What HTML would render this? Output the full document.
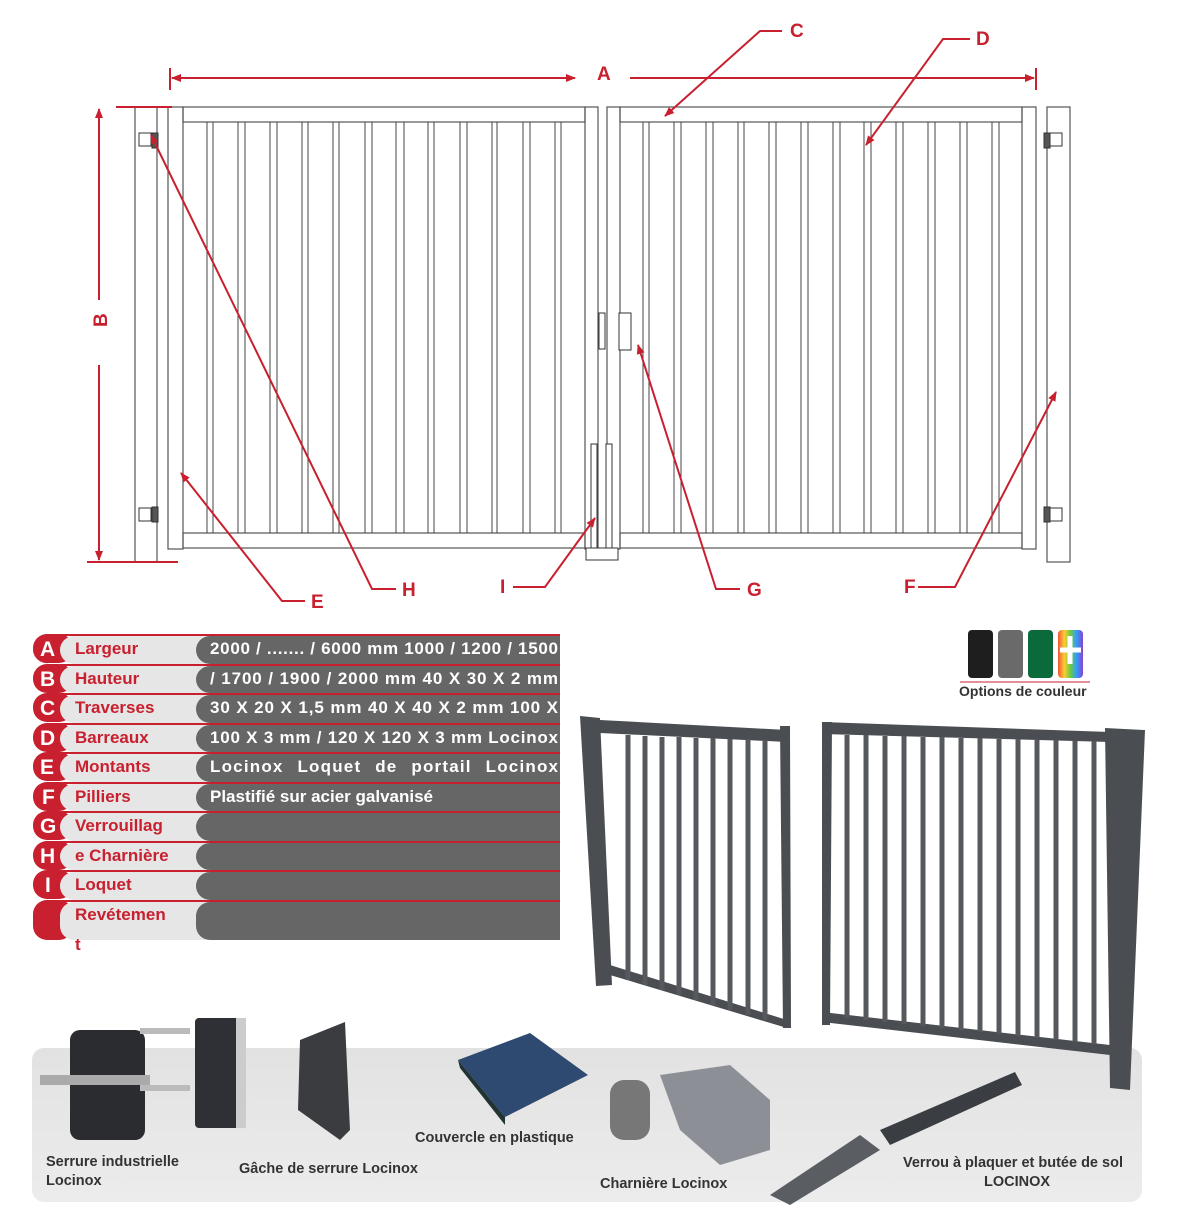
<!DOCTYPE html>
<html><head><meta charset="utf-8"><style>
body{margin:0;background:#fff;width:1200px;height:1230px;overflow:hidden}
svg{display:block}
text{font-family:"Liberation Sans",sans-serif;font-weight:bold}
</style></head><body>
<svg width="1200" height="1230" viewBox="0 0 1200 1230" xmlns="http://www.w3.org/2000/svg">
<defs>
<marker id="ar" markerWidth="10" markerHeight="10" refX="9" refY="5" orient="auto-start-reverse" markerUnits="userSpaceOnUse"><path d="M0,1 L10,5 L0,9 Z" fill="#c8202f"/></marker>
<linearGradient id="rb" x1="0" x2="1"><stop offset="0" stop-color="#e53"/><stop offset=".25" stop-color="#fc3"/><stop offset=".5" stop-color="#6c4"/><stop offset=".75" stop-color="#39f"/><stop offset="1" stop-color="#84c"/></linearGradient>
<linearGradient id="pn" x1="0" y1="0" x2="0" y2="1"><stop offset="0" stop-color="#e2e2e2"/><stop offset="1" stop-color="#ececec"/></linearGradient>
</defs>
<g fill="none" stroke="#555" stroke-width="1.2">
<rect x="135" y="107" width="22" height="455"/>
<rect x="1047" y="107" width="23" height="455"/>
<rect x="168" y="107" width="15" height="442"/>
<rect x="183" y="107" width="402" height="15"/>
<rect x="183" y="533" width="402" height="15"/>
<rect x="585" y="107" width="13" height="442"/>
<rect x="607" y="107" width="13" height="442"/>
<rect x="620" y="107" width="402" height="15"/>
<rect x="620" y="533" width="402" height="15"/>
<rect x="1022" y="107" width="14" height="442"/>
</g>
<g stroke="#444" stroke-width="1">
<path d="M207 122V533M213 122V533M238 122V533M245 122V533M270 122V533M277 122V533M302 122V533M308 122V533M333 122V533M339 122V533M365 122V533M372 122V533M396 122V533M404 122V533M428 122V533M434 122V533M460 122V533M467 122V533M492 122V533M497 122V533M523 122V533M530 122V533M555 122V533M561 122V533"/>
<path d="M643 122V533M649 122V533M674 122V533M681 122V533M706 122V533M713 122V533M738 122V533M744 122V533M769 122V533M776 122V533M801 122V533M808 122V533M833 122V533M840 122V533M864 122V533M871 122V533M896 122V533M903 122V533M928 122V533M935 122V533M960 122V533M967 122V533M992 122V533M999 122V533"/>
</g>
<g fill="#fff" stroke="#333" stroke-width="1">
<rect x="139" y="133" width="12" height="13"/><rect x="152" y="133" width="6" height="15" fill="#555"/>
<rect x="139" y="508" width="12" height="13"/><rect x="152" y="507" width="6" height="15" fill="#555"/>
<rect x="1050" y="133" width="12" height="13"/><rect x="1044" y="133" width="6" height="15" fill="#555"/>
<rect x="1050" y="508" width="12" height="13"/><rect x="1044" y="507" width="6" height="15" fill="#555"/>
<rect x="599" y="313" width="6" height="36"/><rect x="619" y="313" width="12" height="37"/>
<rect x="591" y="444" width="6" height="105"/><rect x="606" y="444" width="6" height="105"/>
<rect x="586" y="548" width="32" height="12"/>
</g>
<g stroke="#c8202f" stroke-width="2" fill="none">
<path d="M170 68V90M1036 68V90M116 107H172M87 562H178"/>
<path d="M172 78H575" marker-start="url(#ar)" marker-end="url(#ar)"/>
<path d="M630 78H1034" marker-end="url(#ar)"/>
<path d="M99 109V300" marker-start="url(#ar)"/>
<path d="M99 365V560" marker-end="url(#ar)"/>
<path d="M782 31H760L665 116" marker-end="url(#ar)"/>
<path d="M970 39H943L866 145" marker-end="url(#ar)"/>
<path d="M305 601H282L181 473" marker-end="url(#ar)"/>
<path d="M396 589H372L151 135" marker-end="url(#ar)"/>
<path d="M513 587H545L595 518" marker-end="url(#ar)"/>
<path d="M740 589H716L638 345" marker-end="url(#ar)"/>
<path d="M918 587H955L1056 392" marker-end="url(#ar)"/>
</g>
<g fill="#c8202f" font-size="19">
<text x="597" y="80">A</text>
<text x="104" y="340" transform="rotate(-90 99 332)">B</text>
<text x="790" y="37">C</text>
<text x="976" y="45">D</text>
<text x="311" y="608">E</text>
<text x="904" y="593">F</text>
<text x="747" y="596">G</text>
<text x="402" y="596">H</text>
<text x="500" y="593">I</text>
</g>
<g>
<path d="M33 650a16 16 0 0 1 16-16H560v2H49a16 16 0 0 0-16 14v0a14 14 0 0 0 16 13z" fill="#c8202f"/>
<g fill="#c8202f">
<rect x="33" y="634" width="40" height="29" rx="14"/><rect x="33" y="664" width="40" height="29" rx="14"/><rect x="33" y="693" width="40" height="29" rx="14"/><rect x="33" y="723" width="40" height="29" rx="14"/><rect x="33" y="752" width="40" height="29" rx="14"/><rect x="33" y="782" width="40" height="29" rx="14"/><rect x="33" y="811" width="40" height="29" rx="14"/><rect x="33" y="841" width="40" height="29" rx="14"/><rect x="33" y="870" width="40" height="29" rx="14"/><rect x="33" y="900" width="40" height="40" rx="14"/>
<rect x="60" y="634" width="500" height="2"/><rect x="60" y="664" width="500" height="2"/><rect x="60" y="693" width="500" height="2"/><rect x="60" y="723" width="500" height="2"/><rect x="60" y="752" width="500" height="2"/><rect x="60" y="782" width="500" height="2"/><rect x="60" y="811" width="500" height="2"/><rect x="60" y="841" width="500" height="2"/><rect x="60" y="870" width="500" height="2"/><rect x="60" y="900" width="500" height="2"/>
</g>
<g fill="#e6e6e6">
<rect x="60" y="636" width="200" height="28" rx="14"/><rect x="60" y="666" width="200" height="27" rx="14"/><rect x="60" y="695" width="200" height="28" rx="14"/><rect x="60" y="725" width="200" height="27" rx="14"/><rect x="60" y="754" width="200" height="28" rx="14"/><rect x="60" y="784" width="200" height="27" rx="14"/><rect x="60" y="813" width="200" height="28" rx="14"/><rect x="60" y="843" width="200" height="27" rx="14"/><rect x="60" y="872" width="200" height="28" rx="14"/><rect x="60" y="902" width="200" height="38" rx="14"/>
</g>
<g fill="#666">
<rect x="196" y="636" width="364" height="28" rx="14"/><rect x="196" y="666" width="364" height="27" rx="14"/><rect x="196" y="695" width="364" height="28" rx="14"/><rect x="196" y="725" width="364" height="27" rx="14"/><rect x="196" y="754" width="364" height="28" rx="14"/><rect x="196" y="784" width="364" height="27" rx="14"/><rect x="196" y="813" width="364" height="28" rx="14"/><rect x="196" y="843" width="364" height="27" rx="14"/><rect x="196" y="872" width="364" height="28" rx="14"/><rect x="196" y="902" width="364" height="38" rx="14"/>
<rect x="400" y="636" width="160" height="304"/>
</g>
<g fill="#c8202f">
<rect x="400" y="664" width="160" height="2"/><rect x="400" y="693" width="160" height="2"/><rect x="400" y="723" width="160" height="2"/><rect x="400" y="752" width="160" height="2"/><rect x="400" y="782" width="160" height="2"/><rect x="400" y="811" width="160" height="2"/><rect x="400" y="841" width="160" height="2"/><rect x="400" y="870" width="160" height="2"/><rect x="400" y="900" width="160" height="2"/>
</g>
<g fill="#fff" font-size="21">
<text x="40" y="656">A</text><text x="40" y="686">B</text><text x="40" y="715">C</text><text x="40" y="745">D</text><text x="40" y="774">E</text><text x="42" y="804">F</text><text x="40" y="833">G</text><text x="40" y="863">H</text><text x="45" y="892">I</text>
</g>
<g fill="#c8202f" font-size="17">
<text x="75" y="654">Largeur</text><text x="75" y="684">Hauteur</text><text x="75" y="713">Traverses</text><text x="75" y="743">Barreaux</text><text x="75" y="772">Montants</text><text x="75" y="802">Pilliers</text><text x="75" y="831">Verrouillag</text><text x="75" y="861">e Charnière</text><text x="75" y="890">Loquet</text><text x="75" y="920">Revétemen</text><text x="75" y="950">t</text>
</g>
<g fill="#fff" font-size="17">
<text x="210" y="654" textLength="348">2000 / ....... / 6000 mm 1000 / 1200 / 1500</text>
<text x="210" y="684" textLength="348">/ 1700 / 1900 / 2000 mm 40 X 30 X 2 mm</text>
<text x="210" y="713" textLength="348">30 X 20 X 1,5 mm 40 X 40 X 2 mm 100 X</text>
<text x="210" y="743" textLength="348">100 X 3 mm / 120 X 120 X 3 mm Locinox</text>
<text x="210" y="772" textLength="348" lengthAdjust="spacing" word-spacing="8">Locinox Loquet de portail Locinox</text>
<text x="210" y="802">Plastifié sur acier galvanisé</text>
</g>
</g>
<rect x="968" y="630" width="25" height="48" rx="4" fill="#1e1e1e"/>
<rect x="998" y="630" width="25" height="48" rx="4" fill="#6a6a6a"/>
<rect x="1028" y="630" width="25" height="48" rx="4" fill="#0a6a3a"/>
<rect x="1058" y="630" width="25" height="48" rx="4" fill="url(#rb)"/>
<path d="M1070 636V664M1060 650H1081" stroke="#fff" stroke-width="5"/>
<path d="M960 682H1090" stroke="#c8202f"/>
<text x="959" y="696" font-size="14" fill="#333">Options de couleur</text>
<rect x="32" y="1048" width="1110" height="154" rx="12" fill="url(#pn)"/>
<g fill="#4a4d52">
<polygon points="580,716 600,718 612,985 596,986"/>
<polygon points="600,720 787,730 787,742 600,733"/>
<polygon points="610,965 787,1020 787,1028 610,975"/>
<polygon points="780,726 790,726 791,1028 783,1028"/>
<polygon points="822,722 1110,732 1110,742 822,734"/>
<polygon points="822,1012 1110,1045 1110,1055 822,1022"/>
<polygon points="822,722 832,722 830,1025 822,1025"/>
<polygon points="1105,728 1145,730 1130,1090 1110,1088"/>
</g>
<g stroke="#55585d" stroke-width="5">
<path d="M628 735V980M645 736V985M662 737V990M679 737V995M696 738V1000M713 738V1005M730 739V1010M748 739V1015M765 740V1020"/>
<path d="M847 735V1018M866 735V1020M885 736V1022M904 736V1024M923 737V1026M942 737V1028M961 738V1030M980 738V1032M999 739V1034M1018 739V1036M1037 740V1038M1056 740V1040M1075 741V1042M1094 741V1044"/>
</g>
<g>
<rect x="70" y="1030" width="75" height="110" rx="10" fill="#2a2c30"/>
<rect x="40" y="1075" width="110" height="10" fill="#aaa"/>
<rect x="140" y="1028" width="50" height="6" fill="#bbb"/><rect x="140" y="1085" width="50" height="6" fill="#bbb"/>
<rect x="195" y="1018" width="50" height="110" rx="4" fill="#2e3035"/><rect x="236" y="1018" width="10" height="110" fill="#ccc"/>
<path d="M300 1040L345 1022L350 1130L340 1140L298 1110Z" fill="#3a3c40"/>
<polygon points="458,1060 530,1033 588,1075 505,1117" fill="#2e4a70"/>
<polygon points="458,1060 505,1117 505,1125 460,1068" fill="#233"/>
<rect x="610" y="1080" width="40" height="60" rx="14" fill="#777"/>
<path d="M660 1075L730 1065L770 1100L770 1150L720 1165L680 1130Z" fill="#8c9096"/>
<path d="M770 1195L860 1135L880 1150L790 1205Z" fill="#5a5d62"/>
<path d="M880 1130L1015 1072L1022 1085L890 1145Z" fill="#3a3d42"/>
</g>
<g font-size="14.5" fill="#333">
<text x="46" y="1166">Serrure industrielle</text><text x="46" y="1185">Locinox</text>
<text x="239" y="1173">Gâche de serrure Locinox</text>
<text x="415" y="1142">Couvercle en plastique</text>
<text x="600" y="1188">Charnière Locinox</text>
<text x="903" y="1167">Verrou à plaquer et butée de sol</text><text x="984" y="1186">LOCINOX</text>
</g>
</svg>
</body></html>
